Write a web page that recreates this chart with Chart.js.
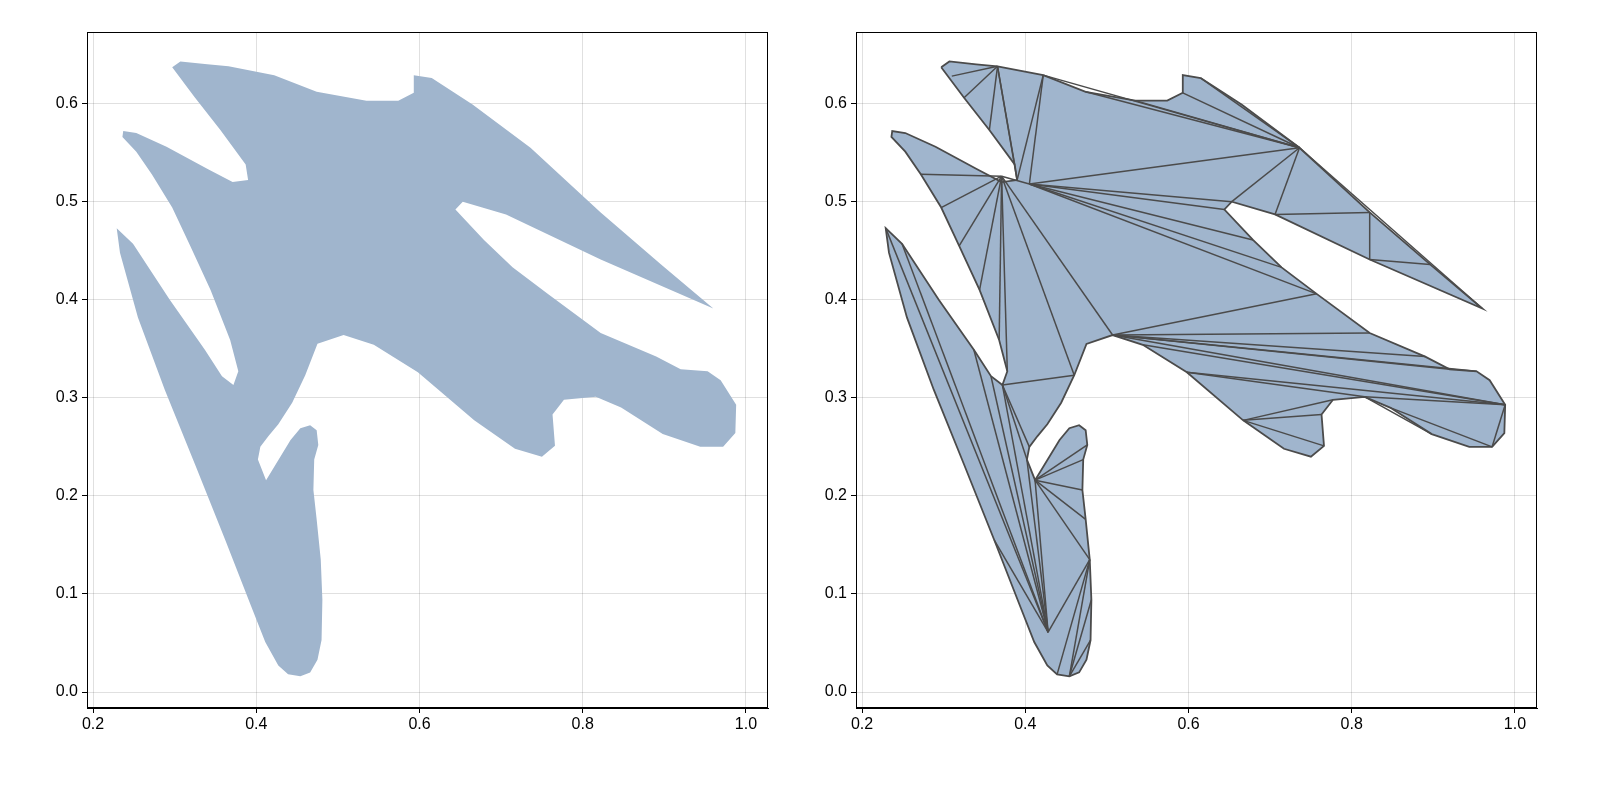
<!DOCTYPE html>
<html><head><meta charset="utf-8">
<script src="https://cdn.jsdelivr.net/npm/chart.js@4"></script>
<style>
body{margin:0;background:#fff;width:1600px;height:800px;position:relative;overflow:hidden}
.box{position:absolute;top:0;width:800px;height:800px}
</style></head><body>
<div class="box" style="left:0"><canvas id="c1" width="800" height="800"></canvas></div>
<div class="box" style="left:769px"><canvas id="c2" width="800" height="800"></canvas></div>
<script>
// outline of the shape (x, y pairs)
const shapeX = [0.297,0.307,0.340,0.366,0.422,0.474,0.535,0.574,0.593,0.593,0.615,0.665,0.736,0.822,0.896,0.960,
  0.822,0.706,0.653,0.644,0.679,0.714,0.757,0.822,0.890,0.920,0.953,0.969,0.988,0.987,0.972,0.944,0.898,0.847,0.816,0.777,0.763,0.766,0.750,0.717,0.667,0.598,0.544,0.507,0.475,0.460,0.444,0.427,0.415,0.405,0.402,0.412,0.442,0.454,0.466,0.474,0.476,0.471,0.470,0.474,0.479,0.481,0.480,0.475,0.466,0.454,0.439,0.427,0.411,0.393,0.362,0.325,0.288,0.255,0.233,0.229,0.249,0.294,0.337,0.358,0.372,0.378,0.368,0.344,0.319,0.297,0.272,0.253,0.236,0.237,0.253,0.290,0.341,0.371,0.390,0.387,0.356,0.325];
const shapeY = [0.637,0.643,0.640,0.638,0.629,0.612,0.603,0.603,0.611,0.629,0.626,0.599,0.555,0.489,0.436,0.391,
  0.441,0.487,0.500,0.492,0.461,0.433,0.406,0.366,0.342,0.329,0.327,0.318,0.293,0.264,0.250,0.250,0.263,0.290,0.301,0.298,0.283,0.251,0.240,0.248,0.277,0.326,0.354,0.364,0.355,0.323,0.295,0.273,0.261,0.250,0.237,0.216,0.257,0.269,0.272,0.267,0.252,0.237,0.206,0.176,0.135,0.094,0.053,0.033,0.020,0.016,0.018,0.027,0.051,0.089,0.155,0.232,0.308,0.382,0.448,0.473,0.457,0.400,0.349,0.322,0.313,0.327,0.359,0.410,0.455,0.494,0.528,0.551,0.566,0.572,0.570,0.556,0.533,0.520,0.522,0.538,0.573,0.606];
// interior triangulation edges: [x1, y1, x2, y2]
const edges = [
  [0.366,0.638,0.310,0.628],[0.366,0.638,0.325,0.606],[0.366,0.638,0.356,0.573],[0.366,0.638,0.387,0.538],[0.366,0.638,0.390,0.522],
  [0.422,0.629,0.390,0.522],[0.422,0.629,0.405,0.518],[0.422,0.629,0.736,0.555],[0.474,0.612,0.736,0.555],[0.535,0.603,0.736,0.555],[0.593,0.611,0.736,0.555],[0.615,0.626,0.736,0.555],
  [0.405,0.518,0.736,0.555],[0.405,0.518,0.653,0.500],[0.405,0.518,0.644,0.492],[0.653,0.500,0.736,0.555],[0.706,0.487,0.736,0.555],[0.706,0.487,0.822,0.489],[0.822,0.441,0.822,0.489],[0.822,0.441,0.896,0.436],[0.736,0.555,0.960,0.391],
  [0.405,0.518,0.679,0.461],[0.405,0.518,0.714,0.433],[0.405,0.518,0.757,0.406],
  [0.371,0.526,0.405,0.518],[0.371,0.526,0.272,0.528],[0.371,0.526,0.297,0.494],[0.371,0.526,0.319,0.455],[0.371,0.526,0.344,0.410],[0.371,0.526,0.368,0.359],[0.371,0.526,0.378,0.327],[0.371,0.526,0.460,0.323],[0.371,0.526,0.507,0.364],
  [0.507,0.364,0.757,0.406],[0.507,0.364,0.822,0.366],[0.507,0.364,0.890,0.342],[0.507,0.364,0.920,0.329],[0.507,0.364,0.953,0.327],[0.507,0.364,0.988,0.293],[0.544,0.354,0.988,0.293],[0.598,0.326,0.988,0.293],
  [0.598,0.326,0.816,0.301],[0.667,0.277,0.777,0.298],[0.667,0.277,0.763,0.283],[0.667,0.277,0.766,0.251],[0.816,0.301,0.988,0.293],[0.816,0.301,0.898,0.263],[0.847,0.290,0.972,0.250],[0.972,0.250,0.988,0.293],
  [0.372,0.313,0.460,0.323],[0.372,0.313,0.405,0.250],[0.372,0.313,0.402,0.237],[0.372,0.313,0.428,0.061],[0.362,0.155,0.428,0.061],
  [0.229,0.473,0.428,0.061],[0.249,0.457,0.428,0.061],[0.337,0.349,0.428,0.061],[0.358,0.322,0.428,0.061],[0.402,0.237,0.428,0.061],[0.412,0.216,0.428,0.061],
  [0.412,0.216,0.476,0.252],[0.412,0.216,0.471,0.237],[0.412,0.216,0.470,0.206],[0.412,0.216,0.474,0.176],[0.412,0.216,0.479,0.135],[0.428,0.061,0.479,0.135],
  [0.479,0.135,0.439,0.018],[0.479,0.135,0.454,0.016],[0.481,0.094,0.454,0.016],[0.480,0.053,0.454,0.016]
];
const xTicks = [0.2,0.4,0.6,0.8,1.0];
const yTicks = [0.0,0.1,0.2,0.3,0.4,0.5,0.6];

const fillColor = '#a0b5cd', lineColor = '#4b4b4b';
const outline = shapeX.map((x,i)=>({x, y: shapeY[i]}));
outline.push(outline[0]);

Chart.defaults.font.family = "'Liberation Sans', Arial, sans-serif";
Chart.defaults.font.size = 16;
Chart.defaults.color = '#000';

function makeChart(id, withMesh) {
  const datasets = [{
    data: outline, showLine: true, fill: 'shape', backgroundColor: fillColor,
    borderColor: withMesh ? lineColor : 'rgba(0,0,0,0)', borderWidth: withMesh ? 1.8 : 0,
    pointRadius: 0, tension: 0, order: 10
  }];
  if (withMesh) edges.forEach(e => datasets.push({
    data: [{x:e[0],y:e[1]},{x:e[2],y:e[3]}], showLine: true, fill: false,
    borderColor: lineColor, borderWidth: 1.5, pointRadius: 0, order: 0
  }));
  const grid = { color: 'rgba(0,0,0,0.12)', lineWidth: 1, drawTicks: true, tickLength: 5, tickColor: '#000' };
  new Chart(document.getElementById(id), {
    type: 'scatter',
    data: { datasets },
    options: {
      responsive: false, animation: false,
      layout: { padding: { left: 10, right: 32, top: 32, bottom: 62 } },
      plugins: { legend: { display: false }, tooltip: { enabled: false } },
      scales: {
        x: {
          min: 0.1926, max: 1.027, grid,
          border: { color: '#000', width: 1 },
          afterBuildTicks: s => { s.ticks = xTicks.map(v => ({ value: v })); },
          afterFit: s => { s.height = 30; },
          ticks: { callback: v => v.toFixed(1), padding: 2, maxRotation: 0 }
        },
        y: {
          min: -0.0163, max: 0.673, grid,
          border: { color: '#000', width: 1 },
          afterBuildTicks: s => { s.ticks = yTicks.map(v => ({ value: v })); },
          afterFit: s => { s.width = 77; },
          ticks: { callback: v => v.toFixed(1), padding: 4 }
        }
      }
    },
    plugins: [{
      id: 'frame',
      afterDraw(c) {
        const a = c.chartArea, g = c.ctx;
        g.save(); g.strokeStyle = '#000'; g.lineWidth = 1;
        g.strokeRect(a.left + 0.5, a.top + 0.5, a.right - a.left - 1, a.bottom - a.top - 1);
        g.restore();
      }
    }]
  });
}
makeChart('c1', false);
makeChart('c2', true);
</script></body></html>
